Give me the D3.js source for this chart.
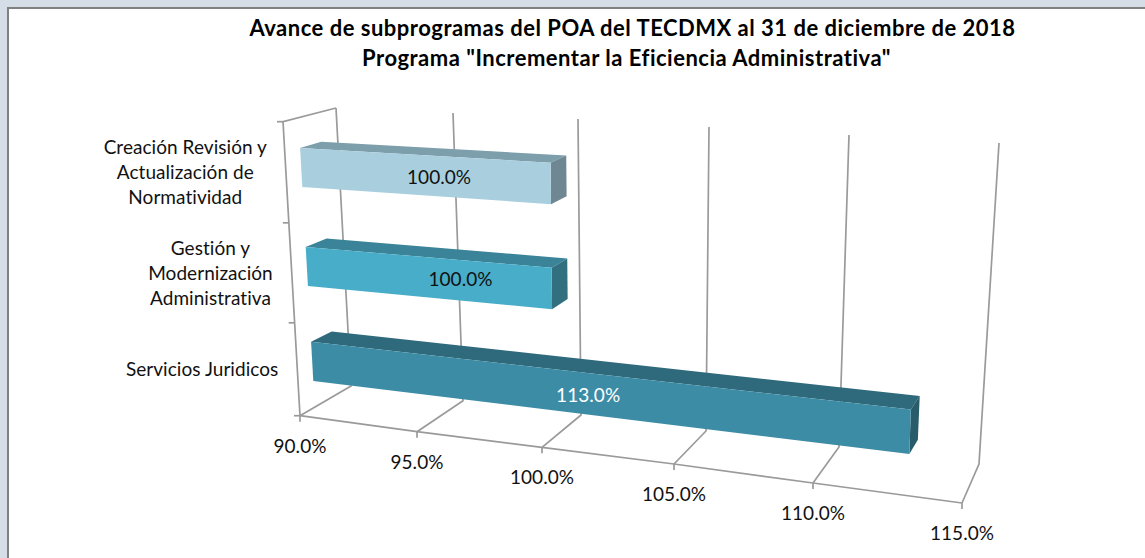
<!DOCTYPE html>
<html><head><meta charset="utf-8">
<script src="https://cdn.jsdelivr.net/npm/d3@7"></script>
<style>html,body{margin:0;padding:0;background:#d5dde6;overflow:hidden}text{font-family:Lato,"Open Sans",sans-serif}</style>
</head><body><svg id="c" width="1145" height="558"></svg>
<script>
const titleLines=['Avance de subprogramas del POA del TECDMX al 31 de diciembre de 2018','Programa "Incrementar la Eficiencia Administrativa"'];
const categories=['Servicios Juridicos','Gestión y|Modernización|Administrativa','Creación Revisión y|Actualización de|Normatividad'];
const values=[113,100,100];
const ticks=[90,95,100,105,110,115];
const faceColors=['#3d8ca6','#47adc9','#a9cfdf'];
const topColors=['#2f6a7c','#3a8399','#7d9eab'];
const sideColors=['#285c6b','#32707f','#6f8792'];
const labelColors=['#ffffff','#111111','#111111'];
// calibration of the perspective box: the four horizontal edges, per tick
const frontBottomX=[300,417,542,674,813,962], frontBottomY=[415.7,431.7,447.3,464,483,503];
const backBottomX=[351,463,581,706,839,979], backBottomY=[386,400.7,415,431,447,464];
const frontTopX=[283,407,539,678,820,972], frontTopY=[121.7,128.7,135.3,143,153,163];
const backTopX=[336,453,578,709,849,999], backTopY=[108,113,119,127,135,143];
const labelShiftX=[-4,35,17], labelShiftY=[2,2,3];
const titleCenters=[632.5,626.5];
const fmt=d=>d.toFixed(1)+'%';
const S=(r)=>d3.scaleLinear().domain(ticks).range(r);
const fbx=S(frontBottomX),fby=S(frontBottomY),bbx=S(backBottomX),bby=S(backBottomY),ftx=S(frontTopX),fty=S(frontTopY),btx=S(backTopX),bty=S(backTopY);
const hs=d3.scaleLinear().domain([0,1/3,2/3,1]).range([0,.316,.656,1]);
const band=d3.scaleBand().domain(categories).range([0,1]);
const lerp=(a,b,t)=>a+(b-a)*t;
function P(v,h,d){
  const bx=lerp(fbx(v),bbx(v),d),by=lerp(fby(v),bby(v),d),tx=lerp(ftx(v),btx(v),d),ty=lerp(fty(v),bty(v),d);
  return [lerp(bx,tx,h),lerp(by,ty,h)];
}
const svg=d3.select('#c');
svg.append('rect').attr('x',8).attr('y',8).attr('width',1145).attr('height',560).attr('fill','#fff').attr('stroke','#808080').attr('stroke-width',2);
svg.selectAll('.title').data(titleLines).join('text').attr('x',(d,i)=>titleCenters[i]).attr('y',(d,i)=>36+i*30).attr('text-anchor','middle').attr('font-size',22).attr('font-weight',700).attr('letter-spacing',.5).attr('fill','#000').text(d=>d);
const line=d3.line();
const grid='#9a9a9a';
const axes=svg.append('g').attr('fill','none').attr('stroke',grid).attr('stroke-width',1.7);
ticks.forEach(t=>{
  axes.append('path').attr('d',line([P(t,0,0),P(t,0,1),P(t,1,1)]));
  axes.append('path').attr('d',line([P(t,0,0),[fbx(t),fby(t)+6]]));
});
axes.append('path').attr('d',line(ticks.map(t=>P(t,0,0))));
axes.append('path').attr('d',line([P(90,0,0),P(90,1,0),P(90,1,1)]));
[0,1/3,2/3,1].forEach(q=>{const p=P(90,hs(q),0);axes.append('path').attr('d',line([[p[0]-6,p[1]],p]));});
const d0=.29,d1=.69,bh=.135;
const poly=(pts,f)=>svg.append('path').attr('d',line(pts)+'Z').attr('fill',f);
categories.forEach((c,i)=>{
  const m=hs(band(c)+band.bandwidth()/2),h0=m-bh/2,h1=m+bh/2,v=values[i];
  poly([P(90,h1,d0),P(90,h1,d1),P(v,h1,d1),P(v,h1,d0)],topColors[i]);
  poly([P(v,h0,d0),P(v,h1,d0),P(v,h1,d1),P(v,h0,d1)],sideColors[i]);
  poly([P(90,h0,d0),P(90,h1,d0),P(v,h1,d0),P(v,h0,d0)],faceColors[i]);
  const lp=P((90+v)/2,m,d0);
  svg.append('text').attr('x',lp[0]+labelShiftX[i]).attr('y',lp[1]+6+labelShiftY[i]).attr('text-anchor','middle').attr('font-size',19).attr('letter-spacing',.05).attr('fill',labelColors[i]).text(fmt(v));
  const lines=c.split('|'),ax=P(90,m,0);
  const g=svg.append('g').attr('font-size',19).attr('letter-spacing',.05).attr('fill','#111').attr('text-anchor','middle');
  const ts=lines.map((l,j)=>g.append('text').attr('y',ax[1]+7+(j-(lines.length-1)/2)*25).text(l));
  const w=d3.max(ts,t=>t.node().getComputedTextLength());
  ts.forEach(t=>t.attr('x',ax[0]-19-w/2));
});
svg.selectAll('.tl').data(ticks).join('text').attr('x',d=>fbx(d)).attr('y',d=>fby(d)+37).attr('text-anchor','middle').attr('font-size',19).attr('letter-spacing',.05).attr('fill','#111').text(d=>fmt(d));
</script></body></html>
